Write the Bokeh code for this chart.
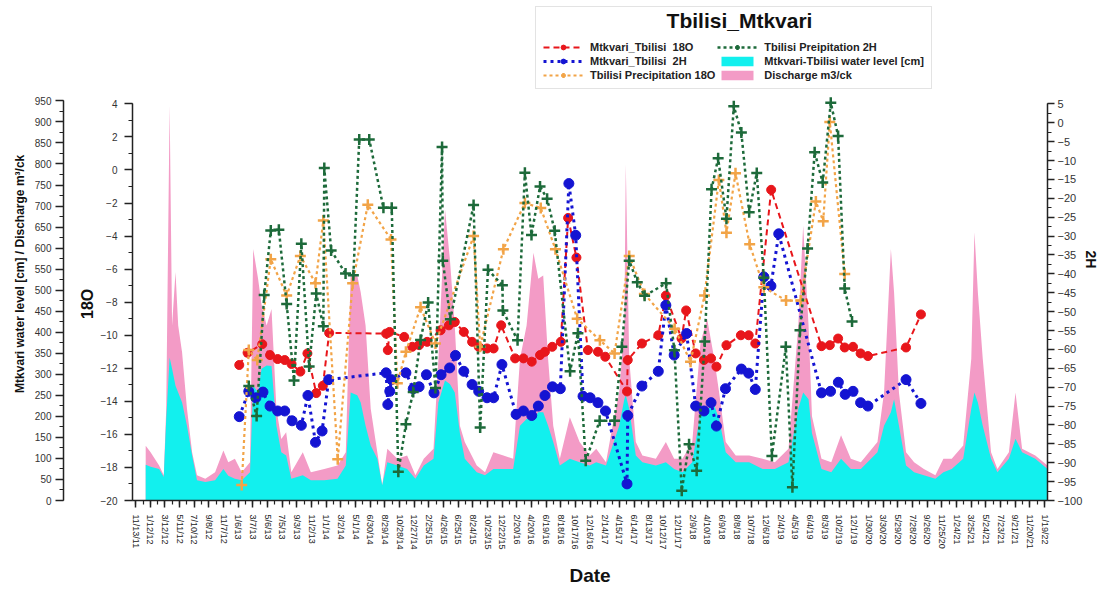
import math
import pandas as pd
from bokeh.plotting import figure
from bokeh.models import (Range1d, LinearAxis, FixedTicker, SingleIntervalTicker,
                          Legend, LegendItem, Label)
from bokeh.embed import file_html
from bokeh.resources import INLINE

BASE = pd.Timestamp("2011-11-13")

# ---------------- x tick labels ----------------
tick_labels = ["11/13/11", "1/12/12", "3/12/12", "5/11/12", "7/10/12", "9/8/12", "11/7/12",
               "1/6/13", "3/7/13", "5/6/13", "7/5/13", "9/3/13", "11/2/13",
               "1/1/14", "3/2/14", "5/1/14", "6/30/14", "8/29/14", "10/28/14", "12/27/14",
               "2/25/15", "4/26/15", "6/25/15", "8/24/15", "10/23/15", "12/22/15",
               "2/20/16", "4/20/16", "6/19/16", "8/18/16", "10/17/16", "12/16/16",
               "2/14/17", "4/15/17", "6/14/17", "8/13/17", "10/12/17", "12/11/17",
               "2/9/18", "4/10/18", "6/9/18", "8/8/18", "10/7/18", "12/6/18",
               "2/4/19", "4/5/19", "6/4/19", "8/3/19", "10/2/19", "12/1/19",
               "1/30/20", "3/30/20", "5/29/20", "7/28/20", "9/26/20", "11/25/20",
               "1/24/21", "3/25/21", "5/24/21", "7/23/21", "9/21/21", "11/20/21", "1/19/22"]

# ---------------- water level / discharge ----------------
flow_dates = ["2011-12-24", "2012-01-13", "2012-02-17", "2012-03-07", "2012-03-17", "2012-03-31",
              "2012-04-10", "2012-04-24", "2012-05-05", "2012-05-21", "2012-06-10", "2012-07-01",
              "2012-07-21", "2012-08-24", "2012-10-03", "2012-11-06", "2012-11-26", "2012-12-23",
              "2013-01-20", "2013-02-23", "2013-03-08", "2013-03-28", "2013-04-11", "2013-05-02",
              "2013-05-22", "2013-06-11", "2013-07-01", "2013-07-21", "2013-08-11", "2013-09-27",
              "2013-10-30", "2013-12-24", "2014-02-16", "2014-03-22", "2014-04-11", "2014-05-08",
              "2014-05-22", "2014-06-11", "2014-07-02", "2014-07-29", "2014-08-18", "2014-09-08",
              "2014-10-19", "2014-11-28", "2015-01-01", "2015-02-04", "2015-03-16", "2015-04-05",
              "2015-05-02", "2015-05-22", "2015-06-11", "2015-07-02", "2015-07-22", "2015-09-09",
              "2015-10-13", "2015-11-16", "2015-12-27", "2016-02-05", "2016-03-04", "2016-03-31",
              "2016-04-28", "2016-05-18", "2016-06-07", "2016-06-27", "2016-07-18", "2016-08-14",
              "2016-09-24", "2016-11-03", "2016-12-14", "2017-01-10", "2017-02-19", "2017-03-18",
              "2017-04-14", "2017-05-05", "2017-05-11", "2017-05-25", "2017-06-21", "2017-07-18",
              "2017-09-11", "2017-10-22", "2017-11-25", "2017-12-29", "2018-02-07", "2018-03-13",
              "2018-04-09", "2018-05-08", "2018-05-28", "2018-06-24", "2018-08-04", "2018-09-28",
              "2018-11-22", "2019-01-11", "2019-03-08", "2019-04-17", "2019-05-07", "2019-05-29",
              "2019-06-12", "2019-07-21", "2019-08-30", "2019-10-09", "2019-11-18", "2019-12-29",
              "2020-03-06", "2020-04-02", "2020-04-30", "2020-05-13", "2020-06-02", "2020-07-01",
              "2020-08-03", "2020-09-12", "2020-10-29", "2020-12-01", "2021-01-04", "2021-02-20",
              "2021-03-25", "2021-04-07", "2021-04-21", "2021-05-11", "2021-06-14", "2021-07-10",
              "2021-08-26", "2021-09-22", "2021-10-19", "2021-12-12", "2022-01-31"]
discharge = [130, 115, 83, 60, 218, 940,
             416, 543, 416, 352, 218, 115,
             60, 52, 67, 119, 91, 99,
             67, 91, 598, 527, 466, 416,
             455, 218, 146, 162, 67, 115,
             67, 75, 83, 115, 539, 535,
             495, 416, 218, 115, 36, 123,
             99, 107, 60, 99, 123, 337,
             693, 574, 416, 178, 139, 83,
             67, 115, 107, 99, 337, 416,
             589, 527, 535, 337, 178, 99,
             198, 139, 107, 123, 91, 178,
             257, 416, 800, 337, 139, 107,
             99, 139, 99, 99, 139, 376,
             432, 337, 257, 139, 107, 107,
             99, 91, 123, 416, 654, 416,
             200, 99, 91, 155, 99, 91,
             139, 257, 598, 495, 257, 115,
             91, 75, 60, 99, 99, 131,
             337, 638, 495, 337, 115, 75,
             115, 257, 123, 107, 83]
water_level = [85, 80, 75, 56, 194, 340,
               313, 273, 257, 233, 178, 107,
               48, 44, 48, 75, 59, 52,
               48, 67, 273, 257, 313, 321,
               320, 178, 115, 107, 52, 60,
               48, 48, 52, 83, 257, 250,
               233, 178, 131, 99, 36, 91,
               83, 75, 52, 83, 99, 233,
               285, 277, 257, 160, 99, 67,
               60, 75, 75, 75, 178, 194,
               194, 210, 210, 178, 139, 83,
               99, 91, 83, 91, 83, 131,
               178, 241, 250, 218, 107, 91,
               83, 91, 75, 67, 91, 210,
               218, 226, 194, 115, 91, 91,
               75, 75, 91, 218, 257, 241,
               160, 75, 67, 99, 75, 75,
               115, 178, 210, 241, 178, 83,
               67, 60, 52, 67, 75, 99,
               218, 257, 233, 178, 99, 67,
               99, 147, 115, 99, 75]

# ---------------- river isotopes ----------------
o18_river_dates = ["2013-01-10", "2013-02-13", "2013-04-14", "2013-05-16", "2013-06-16", "2013-07-15",
                   "2013-08-12", "2013-09-17", "2013-10-16", "2013-11-21", "2013-12-18", "2014-01-13",
                   "2014-09-03", "2014-09-10", "2014-09-17", "2014-11-16", "2014-12-19", "2015-01-16",
                   "2015-02-18", "2015-04-14", "2015-05-18", "2015-06-11", "2015-07-18", "2015-08-21",
                   "2015-09-17", "2015-10-21", "2015-11-17", "2015-12-18", "2016-02-13", "2016-03-18",
                   "2016-04-21", "2016-05-25", "2016-06-14", "2016-07-14", "2016-08-18", "2016-09-17",
                   "2016-10-21", "2016-12-07", "2017-01-17", "2017-02-16", "2017-05-16", "2017-05-19",
                   "2017-07-16", "2017-09-21", "2017-10-22", "2017-12-25", "2018-01-13", "2018-02-21",
                   "2018-03-27", "2018-04-25", "2018-05-17", "2018-06-27", "2018-08-25", "2018-09-26",
                   "2018-10-23", "2018-12-27", "2019-07-21", "2019-08-24", "2019-09-27", "2019-10-24",
                   "2019-11-27", "2019-12-28", "2020-01-27", "2020-07-01", "2020-08-31"]
o18_river = [-11.8, -11.06, -10.54, -11.2, -11.44, -11.5,
             -11.74, -12.2, -11.1, -13.5, -13.06, -9.86,
             -9.9, -10.9, -9.8, -10.1, -10.7, -10.6,
             -10.4, -9.7, -9.4, -9.2, -9.8, -10.4,
             -10.7, -10.8, -10.8, -9.4, -11.4, -11.4,
             -11.6, -11.2, -11.0, -10.7, -10.4, -2.9,
             -5.3, -10.9, -11.0, -11.3, -13.4, -11.5,
             -10.5, -10.0, -7.6, -10.2, -8.5, -11.1,
             -11.5, -11.4, -11.9, -10.6, -10.0, -10.0,
             -10.5, -1.2, -10.66, -10.6, -10.2, -10.74,
             -10.7, -11.1, -11.26, -10.74, -8.74]

h2_river_dates = ["2013-01-10", "2013-02-18", "2013-03-19", "2013-04-17", "2013-05-16", "2013-06-16",
                  "2013-07-15", "2013-08-14", "2013-09-21", "2013-10-18", "2013-11-18", "2013-12-15",
                  "2014-01-11", "2014-09-03", "2014-09-10", "2014-09-18", "2014-09-25", "2014-11-23",
                  "2014-12-23", "2015-01-16", "2015-02-15", "2015-03-18", "2015-04-16", "2015-05-21",
                  "2015-06-14", "2015-07-18", "2015-08-21", "2015-09-17", "2015-10-21", "2015-11-17",
                  "2015-12-21", "2016-02-17", "2016-03-18", "2016-04-21", "2016-05-18", "2016-06-14",
                  "2016-07-15", "2016-08-16", "2016-09-20", "2016-10-18", "2016-11-17", "2016-12-16",
                  "2017-01-17", "2017-02-17", "2017-05-16", "2017-05-19", "2017-07-16", "2017-09-21",
                  "2017-10-22", "2017-11-25", "2018-01-15", "2018-02-21", "2018-03-27", "2018-04-25",
                  "2018-05-17", "2018-06-23", "2018-08-27", "2018-09-26", "2018-10-23", "2018-11-27",
                  "2018-12-26", "2019-01-27", "2019-07-21", "2019-08-27", "2019-09-28", "2019-10-26",
                  "2019-11-27", "2019-12-28", "2020-01-27", "2020-07-01", "2020-08-31"]
h2_river = [-77.8, -71.1, -72.8, -71.3, -75.0, -76.3,
            -76.3, -78.9, -80.1, -72.2, -84.6, -81.6,
            -68.0, -66.2, -74.6, -71.1, -68.0, -66.2,
            -70.4, -69.9, -66.7, -71.5, -66.7, -64.9,
            -61.6, -65.8, -69.3, -71.1, -72.8, -72.8,
            -64.0, -77.2, -76.3, -77.5, -75.0, -72.2,
            -69.9, -70.4, -16.1, -29.8, -72.4, -72.8,
            -74.1, -76.3, -95.6, -77.5, -69.7, -65.8,
            -48.3, -61.5, -55.8, -75.0, -76.3, -74.1,
            -80.3, -70.4, -65.2, -66.3, -70.6, -40.8,
            -43.2, -29.4, -71.5, -71.1, -68.7, -71.9,
            -71.1, -74.1, -75.0, -68.0, -74.3]

# ---------------- precipitation isotopes ----------------
o18_precip_dates = ["2013-01-20", "2013-02-18", "2013-03-25", "2013-05-19", "2013-07-23", "2013-09-17",
                    "2013-11-18", "2013-12-20", "2014-02-17", "2014-04-19", "2014-06-20", "2014-09-23",
                    "2014-10-19", "2014-11-23", "2015-01-22", "2015-03-24", "2015-08-27", "2015-09-23",
                    "2015-12-27", "2016-03-24", "2016-05-28", "2016-07-27", "2016-10-24", "2017-01-25",
                    "2017-03-26", "2017-05-25", "2017-07-26", "2017-11-27", "2018-01-31", "2018-03-29",
                    "2018-05-27", "2018-06-27", "2018-08-03", "2018-09-30", "2018-11-27", "2019-02-26",
                    "2019-04-27", "2019-06-28", "2019-07-28", "2019-08-24", "2019-10-24"]
o18_precip = [-19.06, -10.9, -11.5, -5.4, -7.6, -5.2,
              -6.86, -3.06, -17.5, -6.86, -2.1, -4.2,
              -12.9, -11.0, -8.3, -10.5, -4.0, -10.7,
              -4.8, -2.0, -2.3, -4.8, -9.0, -10.3,
              -11.1, -5.2, -7.5, -9.6, -11.6, -7.6,
              -0.6, -3.8, -0.2, -4.5, -7.1, -7.9,
              -7.9, -1.9, -3.1, 2.9, -6.3]

h2_precip_dates = ["2013-02-18", "2013-03-22", "2013-04-22", "2013-05-19", "2013-06-21", "2013-07-23",
                   "2013-08-22", "2013-09-21", "2013-10-23", "2013-11-21", "2013-12-20", "2013-12-24",
                   "2014-01-21", "2014-03-21", "2014-04-22", "2014-05-16", "2014-06-26", "2014-08-23",
                   "2014-09-26", "2014-10-23", "2014-11-23", "2014-12-23", "2015-01-22", "2015-02-22",
                   "2015-03-24", "2015-04-20", "2015-04-23", "2015-05-24", "2015-08-27", "2015-09-23",
                   "2015-10-25", "2015-12-23", "2015-12-25", "2016-02-23", "2016-03-24", "2016-04-20",
                   "2016-05-25", "2016-06-23", "2016-07-24", "2016-09-25", "2016-10-27", "2016-11-28",
                   "2017-01-24", "2017-03-26", "2017-04-25", "2017-05-25", "2017-06-27", "2017-07-27",
                   "2017-10-23", "2017-11-26", "2017-12-26", "2018-01-25", "2018-02-25", "2018-03-30",
                   "2018-04-27", "2018-05-24", "2018-06-27", "2018-07-27", "2018-08-27", "2018-09-28",
                   "2018-10-29", "2018-11-27", "2018-12-30", "2019-02-25", "2019-03-24", "2019-04-24",
                   "2019-05-25", "2019-06-23", "2019-07-26", "2019-08-28", "2019-09-27", "2019-10-24",
                   "2019-11-23"]
h2_precip = [-69.7, -77.6, -45.6, -28.5, -28.3, -48.0,
             -68.2, -32.0, -64.5, -45.2, -53.9, -12.0,
             -33.8, -39.9, -40.4, -4.4, -4.4, -22.5,
             -22.5, -92.4, -79.8, -71.3, -57.5, -47.6,
             -70.2, -6.4, -36.5, -52.0, -21.8, -80.7,
             -38.9, -43.0, -49.7, -57.6, -13.2, -29.7,
             -16.9, -20.1, -28.6, -65.8, -55.7, -89.5,
             -78.9, -78.9, -59.3, -36.5, -42.2, -45.8,
             -42.5, -60.2, -97.4, -85.1, -92.1, -57.9,
             -17.6, -9.4, -25.4, 4.4, -2.6, -23.7,
             -13.3, -41.0, -88.2, -59.3, -96.5, -54.9,
             -33.3, -7.8, -15.8, 5.3, -3.5, -43.9,
             -52.6]


def to_days(dates):
    return [(pd.Timestamp(d) - BASE).days for d in dates]


FONT = "Liberation Sans"
RED = "#e8161b"
BLUE = "#1414d2"
ORANGE = "#f2a447"
GREEN = "#1d6a3a"
CYAN = "#12f0ee"
PINK = "#f39bc6"
AXC = "#222222"
NB = "\u00a0"

# layout: the frame starts at the very top of the figure (so the legend can sit in it);
# the axes themselves only span their own value bounds.
W, H = 1110, 588
LEFT, RIGHT, BOTTOM = 132, 57, 85
FRAME_H = H - BOTTOM          # 503
AX_TOP = 104                  # px from top where the 18O / 2H axes end
WL_TOP = 101                  # px from top where the water axis ends


def extended(lo, hi, top_px):
    return Range1d(lo, hi + (hi - lo) * top_px / (FRAME_H - top_px))


p = figure(width=W, height=H, x_range=Range1d(-13, 3732), y_range=extended(-20, 4, AX_TOP),
           output_backend="svg", toolbar_location=None,
           min_border_left=LEFT, min_border_right=RIGHT, min_border_top=0, min_border_bottom=BOTTOM)
p.extra_y_ranges = {"h2": extended(-100, 5, AX_TOP), "wl": extended(0, 950, WL_TOP)}
p.xgrid.visible = False
p.ygrid.visible = False
p.outline_line_color = None

fx = to_days(flow_dates)
r_dis = p.varea(x=fx, y1=0, y2=discharge, fill_color=PINK, y_range_name="wl")
r_wl = p.varea(x=fx, y1=0, y2=water_level, fill_color=CYAN, y_range_name="wl")

xr = to_days(o18_river_dates)
l_red = p.line(xr, o18_river, line_color=RED, line_width=2, line_dash="6 4")
m_red = p.scatter(xr, o18_river, marker="circle", size=9, fill_color=RED, line_color=RED)

xb = to_days(h2_river_dates)
l_blue = p.line(xb, h2_river, line_color=BLUE, line_width=3, line_dash="3 4", y_range_name="h2")
m_blue = p.scatter(xb, h2_river, marker="circle", size=10, fill_color=BLUE, line_color=BLUE,
                   y_range_name="h2")

xo = to_days(o18_precip_dates)
l_or = p.line(xo, o18_precip, line_color=ORANGE, line_width=2.2, line_dash="3 3")
m_or = p.scatter(xo, o18_precip, marker="cross", size=11, line_width=2.5, line_color=ORANGE)

xg = to_days(h2_precip_dates)
l_gr = p.line(xg, h2_precip, line_color=GREEN, line_width=2.5, line_dash="3 3", y_range_name="h2")
m_gr = p.scatter(xg, h2_precip, marker="cross", size=11, line_width=2.5, line_color=GREEN,
                 y_range_name="h2")


def style_axis(ax, label_size="10px"):
    ax.major_tick_in = 0
    ax.minor_tick_in = 0
    ax.major_tick_out = 8
    ax.minor_tick_out = 4
    ax.axis_line_width = 1.5
    ax.axis_line_color = AXC
    ax.major_tick_line_width = 1.5
    ax.major_tick_line_color = AXC
    ax.minor_tick_line_width = 1.2
    ax.minor_tick_line_color = AXC
    ax.major_label_text_font = FONT
    ax.major_label_text_font_size = label_size
    ax.major_label_text_color = "#333333"
    ax.axis_label_text_font = FONT
    ax.axis_label_text_font_style = "bold"
    ax.axis_label_text_color = "#111111"


# 18O axis (inner left); trailing no-break spaces move the title down along the axis
ax18 = p.yaxis[0]
ax18.bounds = (-20, 4)
ax18.ticker = SingleIntervalTicker(interval=2, num_minor_ticks=2)
ax18.axis_label = " \n18O" + NB * 24
style_axis(ax18)
ax18.major_label_standoff = 7
ax18.axis_label_standoff = 2
ax18.axis_label_text_font_size = "16px"
ax18.axis_label_text_line_height = 0.7

# water level / discharge axis (outer left)
ax_wl = LinearAxis(y_range_name="wl",
                   axis_label="Mtkvari water level [cm] / Discharge m³/ck" + NB * 14)
ax_wl.bounds = (0, 950)
ax_wl.ticker = SingleIntervalTicker(interval=50, num_minor_ticks=2)
style_axis(ax_wl)
ax_wl.major_label_standoff = 4
ax_wl.axis_label_standoff = 5
ax_wl.axis_label_text_font_size = "12px"
p.add_layout(ax_wl, "left")

# 2H axis (right), title reading bottom-to-top like the left ones
ax_h2 = LinearAxis(y_range_name="h2", axis_label="2H" + NB * 15)
ax_h2.bounds = (-100, 5)
ax_h2.ticker = SingleIntervalTicker(interval=5, num_minor_ticks=2)
style_axis(ax_h2, label_size="11px")
ax_h2.major_tick_out = 7
ax_h2.major_label_standoff = 3
ax_h2.axis_label_standoff = 6
ax_h2.axis_label_text_font_size = "14px"
ax_h2.axis_label_orientation = -math.pi / 2
p.add_layout(ax_h2, "right")

# x axis
tick_pos = [(pd.to_datetime(t, format="%m/%d/%y") - BASE).days for t in tick_labels]
minor_pos = sorted(set(tick_pos + [t + 30 for t in tick_pos[:-1]]))
axx = p.xaxis[0]
axx.ticker = FixedTicker(ticks=tick_pos, minor_ticks=minor_pos)
axx.major_label_overrides = {pos: lbl for pos, lbl in zip(tick_pos, tick_labels)}
axx.major_label_orientation = "vertical"
axx.axis_label = "Date"
style_axis(axx, label_size="9px")
axx.major_tick_out = 7
axx.major_label_text_color = "#222222"
axx.major_label_standoff = 7
axx.axis_label_standoff = 12
axx.axis_label_text_font_size = "19px"

legend = Legend(items=[
    LegendItem(label="Mtkvari_Tbilisi  18O", renderers=[l_red, m_red]),
    LegendItem(label="Mtkvari_Tbilisi  2H", renderers=[l_blue, m_blue]),
    LegendItem(label="Tbilisi Precipitation 18O", renderers=[l_or, m_or]),
    LegendItem(label="Tbilisi Preipitation 2H", renderers=[l_gr, m_gr]),
    LegendItem(label="Mtkvari-Tbilisi water level [cm]", renderers=[r_wl]),
    LegendItem(label="Discharge m3/ck", renderers=[r_dis]),
], ncols=2, location=(403, 411))
legend.title = " "
legend.title_text_font_size = "20px"
legend.title_standoff = 4
legend.label_text_font = FONT
legend.label_text_font_style = "bold"
legend.label_text_font_size = "11px"
legend.label_text_color = "#222222"
legend.glyph_width = 40
legend.glyph_height = 12
legend.label_standoff = 7
legend.label_height = 12
legend.spacing = 2
legend.padding = 7
legend.margin = 0
legend.background_fill_alpha = 0
legend.border_line_color = "#c8c8c8"
legend.border_line_width = 1
p.add_layout(legend)

title = Label(x=607, y=480, x_units="screen", y_units="screen", text="Tbilisi_Mtkvari",
              text_align="center", text_baseline="middle", text_font=FONT,
              text_font_style="bold", text_font_size="21px", text_color="#111111")
p.add_layout(title)

open("out.html", "w").write(file_html(p, INLINE))
